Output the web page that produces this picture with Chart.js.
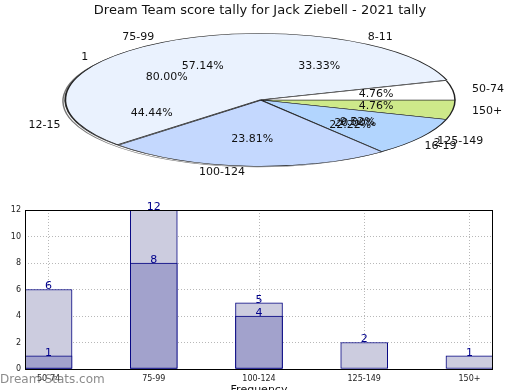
<!DOCTYPE html>
<html>
<head>
<meta charset="utf-8">
<script src="https://cdn.jsdelivr.net/npm/chart.js@4.4.1/dist/chart.umd.min.js"></script>
<style>
  body { margin: 0; width: 520px; height: 390px; overflow: hidden; background: #fff; position: relative; font-family: "DejaVu Sans", sans-serif; }
  canvas { position: absolute; }
  #title { position: absolute; top: 2px; left: 0; width: 520px; text-align: center; font-size: 13px; color: #111; }
  #mark { position: absolute; left: 0; top: 372px; font-size: 12px; color: rgba(110,110,110,0.8); }
</style>
</head>
<body>
<canvas id="barChart" width="520" height="400" style="left:0;top:0"></canvas>
<canvas id="ghostA" width="520" height="400" style="left:-3px;top:-99px"></canvas>
<canvas id="ghostB" width="520" height="400" style="left:-1px;top:-100px"></canvas>
<canvas id="pieChart" width="520" height="400" style="left:1px;top:-100px"></canvas>
<div id="title">Dream Team score tally for Jack Ziebell - 2021 tally</div>
<div id="mark">Dream-Stats.com</div>
<script>
// score ranges
const ranges = ['50-74', '75-99', '100-124', '125-149', '150+'];
const pieCounts = [1, 12, 5, 2, 1];
const pieColors = ['#ffffff', '#eaf2fe', '#c4d8fe', '#b2d5fe', '#cee98a'];

// bar chart
const totalCounts = [6, 12, 5, 2, 1];
const innerCounts = [1, 8, 4, 0, 0];
const yTicks = [0, 2, 4, 6, 8, 10, 12];

// the two faint pies underneath
const ghostALabels = ['1', '2'];
const ghostAValues = [4, 1];
const ghostBLabels = ['8-11', '12-15', '16-19'];
const ghostBValues = [3, 4, 2];

const tilt = 0.34;
const rev = a => a.slice().reverse();   // matplotlib goes counter-clockwise

const squash = {
    id: 'squash',
    beforeDatasetsDraw(chart) {
        const a = chart.chartArea;
        const cx = (a.left + a.right) / 2, cy = (a.top + a.bottom) / 2;
        const ctx = chart.ctx;
        ctx.save();
        ctx.translate(cx, cy);
        ctx.scale(1, tilt);
        ctx.translate(-cx, -cy);
    },
    afterDatasetsDraw(chart) { chart.ctx.restore(); }
};

function pieOptions() {
    return {
        responsive: false,
        animation: false,
        rotation: 90,
        radius: 194,
        layout: { padding: 0 },
        plugins: { legend: { display: false }, tooltip: { enabled: false } },
        events: []
    };
}

const ghostA = new Chart(document.getElementById('ghostA'), {
    type: 'pie',
    data: { labels: rev(ghostALabels), datasets: [{ data: rev(ghostAValues), backgroundColor: '#ffffff', borderColor: '#777', borderWidth: 1.5 }] },
    options: pieOptions(),
    plugins: [squash]
});
const ghostB = new Chart(document.getElementById('ghostB'), {
    type: 'pie',
    data: { labels: rev(ghostBLabels), datasets: [{ data: rev(ghostBValues), backgroundColor: '#ffffff', borderColor: '#555', borderWidth: 1.5 }] },
    options: pieOptions(),
    plugins: [squash]
});

function drawLabels(ctx, chart) {
    const meta = chart.getDatasetMeta(0);
    const vals = chart.data.datasets[0].data;
    const sum = vals.reduce((s, v) => s + v, 0);
    ctx.save();
    ctx.font = '11px "DejaVu Sans"';
    ctx.fillStyle = '#111';
    ctx.textBaseline = 'middle';
    meta.data.forEach((arc, i) => {
        const p = arc.getProps(['x', 'y', 'startAngle', 'endAngle', 'outerRadius'], true);
        const mid = (p.startAngle + p.endAngle) / 2;
        const c = Math.cos(mid), s = Math.sin(mid);
        ctx.textAlign = 'center';
        ctx.fillText((vals[i] / sum * 100).toFixed(2) + '%', p.x + c * p.outerRadius * 0.6, p.y + s * p.outerRadius * 0.6 * tilt);
        ctx.textAlign = c >= 0 ? 'left' : 'right';
        ctx.fillText(chart.data.labels[i], p.x + c * p.outerRadius * 1.1, p.y + s * p.outerRadius * 1.1 * tilt);
    });
    ctx.restore();
}

const pieLabels = {
    id: 'pieLabels',
    afterDraw(chart) {
        [ghostA, ghostB, chart].forEach(c => drawLabels(chart.ctx, c));
    }
};

new Chart(document.getElementById('pieChart'), {
    type: 'pie',
    data: {
        labels: rev(ranges),
        datasets: [{
            data: rev(pieCounts),
            backgroundColor: rev(pieColors),
            borderColor: '#222',
            borderWidth: 1.5,
            offset: [0, 0, 3, 4, 0]
        }]
    },
    options: pieOptions(),
    plugins: [squash, pieLabels]
});

// bar chart: frame + value labels
const frame = {
    id: 'frame',
    afterDraw(chart) {
        const a = chart.chartArea, ctx = chart.ctx;
        ctx.save();
        ctx.strokeStyle = '#000';
        ctx.lineWidth = 1;
        ctx.strokeRect(a.left + 0.5, a.top + 0.5, a.right - a.left - 1, a.bottom - a.top);
        ctx.restore();
    }
};
const barValues = {
    id: 'barValues',
    afterDatasetsDraw(chart) {
        const ctx = chart.ctx;
        ctx.save();
        ctx.font = '11px "DejaVu Sans"';
        ctx.fillStyle = '#00008b';
        ctx.textAlign = 'center';
        ctx.textBaseline = 'middle';
        chart.data.datasets.forEach((ds, di) => {
            chart.getDatasetMeta(di).data.forEach((bar, i) => {
                const v = ds.data[i].y;
                if (!v) return;
                ctx.fillText(String(v), bar.x, bar.y - 3);
            });
        });
        ctx.restore();
    }
};

const gridStyle = { color: '#b8b8b8', lineWidth: 1, drawTicks: false };

new Chart(document.getElementById('barChart'), {
    type: 'bar',
    data: {
        datasets: [{
            label: 'Total',
            data: totalCounts.map((v, i) => ({ x: i, y: v })),
            backgroundColor: '#ccccdf',
            borderColor: '#000080',
            borderWidth: 1,
            borderSkipped: false,
            order: 2
        }, {
            label: 'Inner',
            data: innerCounts.map((v, i) => ({ x: i, y: v })),
            backgroundColor: '#a2a2cc',
            borderColor: '#000080',
            borderWidth: 1,
            borderSkipped: false,
            order: 1
        }]
    },
    options: {
        responsive: false,
        animation: false,
        events: [],
        grouped: false,
        barThickness: 47,
        layout: { padding: { top: 210, right: 27, left: 0, bottom: 0 } },
        plugins: { legend: { display: false }, tooltip: { enabled: false } },
        scales: {
            x: {
                type: 'linear',
                offset: false,
                min: -0.224,
                max: 4.224,
                afterBuildTicks: s => { s.ticks = ranges.map((_, i) => ({ value: i })); },
                afterFit: s => { s.height = 31; },
                grid: { ...gridStyle, offset: false },
                border: { display: false, dash: [1, 2] },
                ticks: {
                    callback: v => ranges[v],
                    font: { size: 8, family: 'DejaVu Sans' },
                    color: '#222',
                    padding: 5,
                    maxRotation: 0,
                    autoSkip: false
                },
                title: { display: true, text: 'Frequency', font: { size: 11, family: 'DejaVu Sans' }, color: '#111', padding: { top: 0, bottom: 3 } }
            },
            y: {
                min: 0,
                max: 12,
                afterBuildTicks: s => { s.ticks = yTicks.map(v => ({ value: v })); },
                afterFit: s => { s.width = 25; },
                grid: gridStyle,
                border: { display: false, dash: [1, 2] },
                ticks: { font: { size: 8, family: 'DejaVu Sans' }, color: '#222', padding: 4 }
            }
        }
    },
    plugins: [frame, barValues]
});
</script>
</body>
</html>
